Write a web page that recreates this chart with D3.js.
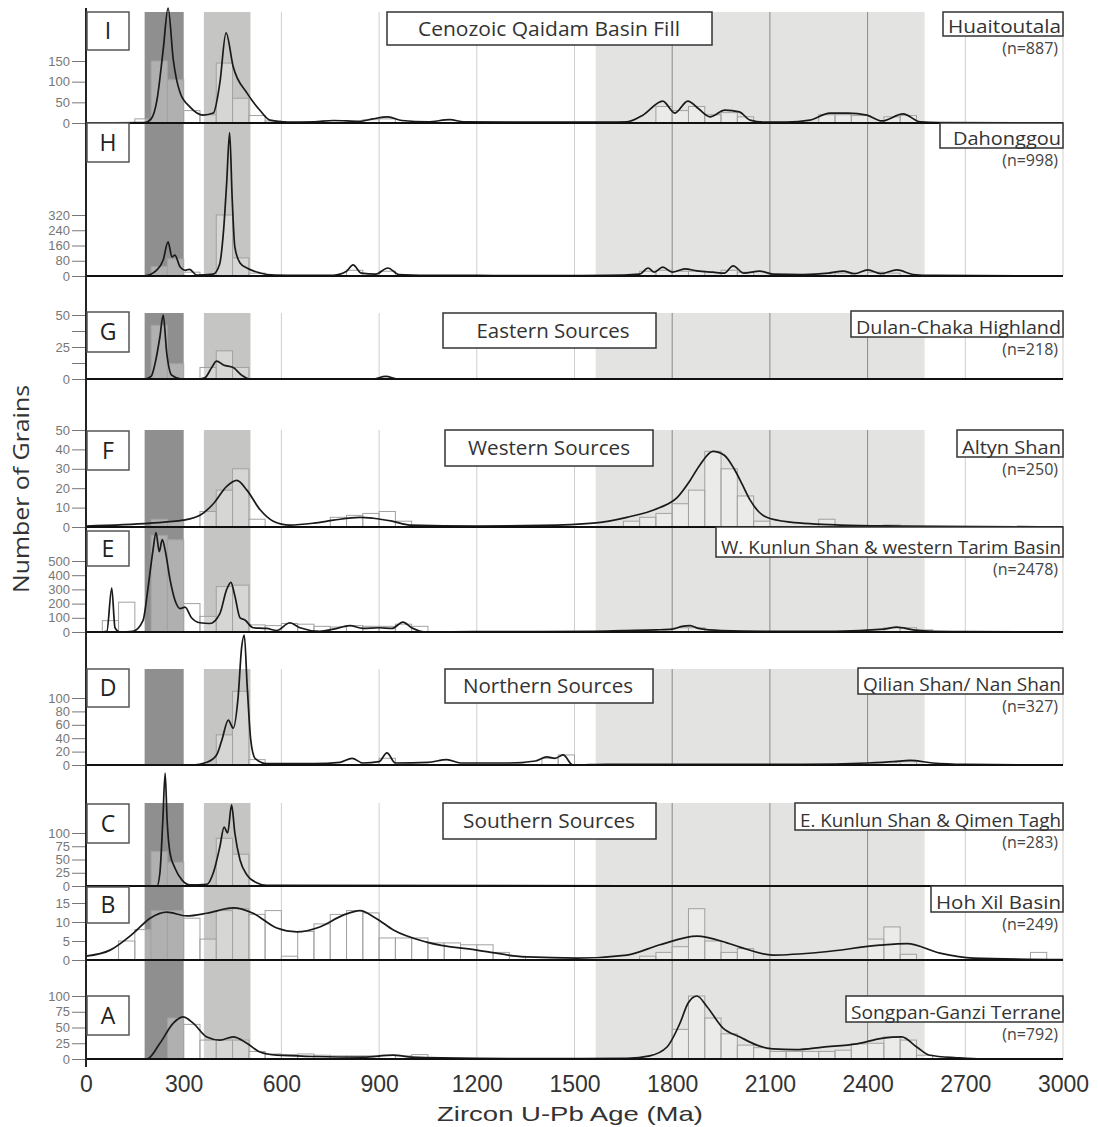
<!DOCTYPE html>
<html>
<head>
<meta charset="utf-8">
<script src="https://cdn.jsdelivr.net/npm/d3@7"></script>
<style>
  body { margin: 0; background: #fff; }
</style>
</head>
<body>
<div id="chart"></div>
<script>
// ---- data (age in Ma, value in grains) ----
const xTicks = [0, 300, 600, 900, 1200, 1500, 1800, 2100, 2400, 2700, 3000];
const gridAges = [600, 900, 1200, 1500, 1800, 2100, 2400, 2700, 3000];
const bandAges = [[180, 300], [362, 505], [1565, 2575]];
const binWidth = 50;

const panelIds = ['I', 'H', 'G', 'F', 'E', 'D', 'C', 'B', 'A'];
const siteNames = ['Huaitoutala', 'Dahonggou', 'Dulan-Chaka Highland', 'Altyn Shan',
  'W. Kunlun Shan & western Tarim Basin', 'Qilian Shan/ Nan Shan',
  'E. Kunlun Shan & Qimen Tagh', 'Hoh Xil Basin', 'Songpan-Ganzi Terrane'];
const siteCounts = [887, 998, 218, 250, 2478, 327, 283, 249, 792];
const groupTitles = ['Cenozoic Qaidam Basin Fill', 'Eastern Sources', 'Western Sources',
  'Northern Sources', 'Southern Sources'];

const ticksI = [0, 50, 100, 150];
const ticksH = [0, 80, 160, 240, 320];
const ticksG = [0, 25, 50];
const minorG = [12.5, 37.5];
const ticksF = [0, 10, 20, 30, 40, 50];
const ticksE = [0, 100, 200, 300, 400, 500];
const ticksD = [0, 20, 40, 60, 80, 100];
const ticksC = [0, 25, 50, 75, 100];
const ticksB = [0, 5, 10, 15];
const ticksA = [0, 25, 50, 75, 100];

const curveI = [[0,0],[180,1],[200,10],[218,56],[237,177],[252,278],[268,153],[289,73],[319,39],[360,19],[391,24],[411,97],[430,218],[452,136],[494,73],[534,31],[565,7],[620,2],[700,3],[760,6],[840,4],[880,10],[927,15],[970,6],[1050,3],[1117,8],[1160,3],[1300,2],[1450,2],[1600,2],[1661,3],[1710,19],[1771,53],[1808,24],[1848,53],[1880,35],[1916,15],[1962,31],[2006,27],[2039,7],[2080,2],[2150,2],[2223,7],[2284,24],[2340,24],[2398,19],[2444,5],[2509,22],[2561,3],[2620,1],[3000,0]];
const binsI = [[150,10],[200,150],[250,105],[300,30],[350,20],[400,145],[450,60],[500,18],[550,5],[850,8],[900,10],[1750,40],[1800,30],[1850,40],[1900,20],[1950,25],[2000,15],[2250,20],[2300,20],[2350,18],[2450,15],[2500,18]];

const curveH = [[0,0],[180,1],[218,32],[237,84],[252,179],[264,100],[273,110],[289,47],[305,30],[318,35],[340,5],[391,10],[410,60],[422,230],[432,490],[441,752],[449,400],[457,153],[473,68],[494,42],[534,16],[580,5],[650,3],[760,4],[800,25],[820,58],[845,15],[890,10],[927,42],[960,8],[1050,4],[1200,3],[1400,2],[1600,3],[1700,10],[1726,42],[1745,20],[1771,47],[1800,20],[1839,37],[1876,27],[1925,20],[1960,15],[1987,53],[2020,15],[2069,26],[2110,10],[2200,8],[2280,15],[2325,26],[2360,12],[2401,32],[2440,12],[2490,32],[2540,8],[2600,3],[3000,0]];
const binsH = [[200,50],[250,90],[300,20],[400,320],[450,95],[500,15],[800,30],[900,25],[1700,25],[1750,30],[1800,25],[1850,25],[1950,30],[2000,20],[2300,15],[2400,20],[2450,15]];

const curveG = [[0,0],[180,0],[200,2],[212,12],[227,33],[237,50],[248,20],[263,3],[294,0],[340,0],[365,1],[386,9],[401,14],[422,11],[452,9],[478,3],[503,0],[880,0],[920,2],[960,0],[3000,0]];
const binsG = [[200,42],[250,12],[350,9],[400,22],[450,9]];

const curveF = [[0,0.5],[197,2],[298,3.5],[350,6],[391,12],[432,21],[463,24],[494,19],[534,9],[575,3],[626,1],[700,2],[760,3.5],[841,5],[882,4.5],[940,3],[995,1],[1200,0.5],[1400,0.8],[1557,2],[1661,5],[1762,10],[1814,15],[1855,24],[1885,32],[1925,39],[1960,37],[1990,30],[2015,22],[2039,14],[2065,8],[2090,5],[2162,2.5],[2315,1],[2500,0.5],[3000,0]];
const binsF = [[200,4],[250,3],[350,8],[400,19],[450,30],[500,4],[750,5],[800,6],[850,7],[900,8],[950,3],[1650,3],[1700,5],[1750,7],[1800,12],[1850,19],[1900,39],[1950,30],[2000,16],[2050,3],[2250,4],[2450,1]];

const curveE = [[0,0],[43,0],[64,5],[79,310],[89,30],[104,0],[144,5],[175,80],[191,320],[205,565],[215,700],[225,565],[234,650],[244,565],[258,370],[273,225],[289,165],[304,175],[324,100],[350,65],[380,60],[411,130],[432,300],[445,350],[457,255],[473,100],[488,85],[513,30],[555,25],[586,10],[626,65],[657,30],[718,5],[760,20],[810,45],[850,25],[900,30],[940,25],[973,70],[1000,30],[1046,0],[1200,3],[1400,3],[1560,5],[1650,10],[1750,15],[1800,20],[1830,40],[1855,45],[1880,25],[1950,10],[2100,5],[2300,5],[2450,20],[2490,35],[2540,15],[2600,5],[2700,3],[3000,0]];
const binsE = [[50,80],[100,210],[200,680],[250,650],[300,200],[350,110],[400,320],[450,330],[500,50],[550,45],[600,60],[650,55],[700,40],[750,35],[800,45],[850,40],[900,40],[950,55],[1000,40],[1800,30],[1850,30],[2450,30],[2500,30],[2550,15]];

const curveD = [[0,0],[329,0],[371,4],[401,15],[417,37],[437,67],[452,55],[467,101],[478,176],[486,194],[495,117],[506,37],[519,10],[555,2],[700,2],[780,4],[817,10],[850,3],[900,5],[924,18],[950,3],[1050,4],[1108,8],[1150,3],[1300,3],[1380,6],[1415,12],[1440,10],[1465,15],[1495,0],[1600,1],[1800,1],[2200,1],[2400,3],[2480,5],[2530,7],[2600,3],[2700,1],[3000,0]];
const binsD = [[400,45],[450,110],[500,8],[900,10],[1400,10],[1450,15],[2500,5]];

const curveC = [[0,0],[218,0],[227,25],[236,125],[243,213],[249,125],[258,62],[273,34],[295,11],[319,2],[371,3],[391,25],[411,74],[424,111],[435,100],[447,153],[457,100],[473,49],[494,21],[524,6],[555,1],[3000,0]];
const binsC = [[200,65],[250,45],[400,90],[450,60]];

const curveB = [[0,1],[74,2.6],[145,7],[197,11],[248,12.6],[309,11.6],[371,12.3],[452,13.7],[513,12.3],[586,8.4],[647,7.4],[718,8.7],[790,11.8],[841,13],[890,11],[944,7.9],[1046,4.7],[1200,2.6],[1354,0.8],[1508,0.5],[1661,1.3],[1762,4],[1876,6.3],[1968,4.5],[2008,3.4],[2109,1.3],[2263,2.1],[2438,3.9],[2521,4.3],[2622,1.8],[2724,0.5],[3000,0.1]];
const binsB = [[100,5],[150,8],[200,13],[250,13],[300,11],[350,5.5],[400,13],[450,13.5],[500,12],[550,13],[600,1],[650,7.5],[700,9.5],[750,12],[800,13],[850,12.4],[900,5.8],[950,5.8],[1000,5.8],[1050,4.5],[1100,4.5],[1150,4],[1200,4],[1250,2],[1300,1],[1700,1],[1750,2],[1800,3.5],[1850,13.5],[1900,5],[1950,2],[2000,3],[2400,5.5],[2450,8.7],[2500,1.5],[2900,2]];

const curveA = [[0,0],[187,0],[227,25],[268,57],[298,67],[329,57],[371,35],[411,30],[452,35],[494,25],[534,11],[586,6],[700,4],[850,3],[944,6],[1000,3],[1200,1],[1527,0.5],[1661,1],[1731,5],[1784,19],[1824,57],[1849,89],[1876,100],[1907,83],[1956,49],[2008,35],[2060,22],[2109,16],[2180,15],[2263,19],[2367,24],[2447,33],[2505,35],[2551,19],[2591,6],[2674,2],[2750,0],[3000,0]];
const binsA = [[250,65],[300,55],[350,30],[400,30],[450,30],[500,12],[550,8],[600,7],[650,8],[700,6],[750,5],[800,5],[850,5],[900,6],[950,5],[1000,7],[1800,47],[1850,100],[1900,65],[1950,40],[2000,22],[2050,18],[2100,12],[2150,12],[2200,12],[2250,12],[2300,14],[2350,24],[2400,25],[2450,35],[2500,30],[2550,6]];

// ---- layout ----
const W = 1098, H = 1127;
const X0 = 86, X1 = 1063;
const bandColors = ['#8f8f8f', '#c5c6c3', '#e3e3e1'];
const labelFont = "'Open Sans', 'Noto Sans', sans-serif";
const axisFont = "'Liberation Sans', Arial, sans-serif";

// per panel: pixel baseline, pixel of top tick, letter box, site box
const panels = [
  { curve: curveI, bins: binsI, ticks: ticksI, y0: 123, yt: 61, box: [12, 50], site: [943, 12, 36] },
  { curve: curveH, bins: binsH, ticks: ticksH, y0: 276, yt: 215, box: [123, 162], site: [940, 123, 148], tl: 108 },
  { curve: curveG, bins: binsG, ticks: ticksG, minor: minorG, y0: 379, yt: 315, box: [312, 352], site: [851, 311, 337] },
  { curve: curveF, bins: binsF, ticks: ticksF, y0: 527, yt: 430, box: [431, 470], site: [957, 430, 457] },
  { curve: curveE, bins: binsE, ticks: ticksE, y0: 632, yt: 561, box: [531, 566], site: [716, 527, 557] },
  { curve: curveD, bins: binsD, ticks: ticksD, y0: 765, yt: 698, box: [669, 707], site: [858, 668, 694] },
  { curve: curveC, bins: binsC, ticks: ticksC, y0: 886, yt: 833, box: [804, 843], site: [795, 803, 830] },
  { curve: curveB, bins: binsB, ticks: ticksB, y0: 960, yt: 903, box: [887, 923], site: [931, 886, 912] },
  { curve: curveA, bins: binsA, ticks: ticksA, y0: 1059, yt: 996, box: [996, 1035], site: [846, 996, 1022] }
];
panels.forEach((p, i) => {
  p.id = panelIds[i];
  p.name = siteNames[i];
  p.n = siteCounts[i];
  const top = p.ticks[p.ticks.length - 1];
  p.y = d3.scaleLinear().domain([0, top]).range([p.y0, p.yt]);
});

// groups of panels sharing the shaded bands, with their title box
const groups = [
  { top: 12, from: 0, to: 1, title: [387, 712, 12, 45], tx: 549, tl: 262 },
  { top: 313, from: 2, to: 2, title: [443, 656, 313, 348], tx: 553, tl: 153 },
  { top: 430, from: 3, to: 4, title: [445, 653, 430, 466], tx: 549, tl: 162 },
  { top: 669, from: 5, to: 5, title: [445, 653, 669, 703], tx: 548, tl: 170 },
  { top: 803, from: 6, to: 8, title: [443, 656, 803, 839], tx: 549, tl: 172 }
];

const x = d3.scaleLinear().domain([0, 3000]).range([X0, X1]);

const svg = d3.select('#chart').append('svg')
  .attr('width', W)
  .attr('height', H);

// shaded age bands and grid lines
groups.forEach((g) => {
  const bottom = panels[g.to].y0;
  const gg = svg.append('g');
  gg.selectAll('rect').data(bandAges).enter().append('rect')
    .attr('x', d => x(d[0]))
    .attr('y', g.top)
    .attr('width', d => x(d[1]) - x(d[0]))
    .attr('height', bottom - g.top)
    .attr('fill', (d, k) => bandColors[k]);
  gg.selectAll('line').data(gridAges).enter().append('line')
    .attr('x1', d => x(d)).attr('x2', d => x(d))
    .attr('y1', g.top).attr('y2', bottom)
    .attr('stroke', d => (d > bandAges[2][0] && d < bandAges[2][1]) ? '#8a8a8a' : '#cfcfcf')
    .attr('stroke-width', 1);
});

// histograms
panels.forEach((p) => {
  svg.append('g').selectAll('rect').data(p.bins).enter().append('rect')
    .attr('x', d => x(d[0]))
    .attr('y', d => p.y(d[1]))
    .attr('width', d => x(d[0] + binWidth) - x(d[0]))
    .attr('height', d => p.y(0) - p.y(d[1]))
    .attr('fill', 'rgba(255,255,255,0.3)')
    .attr('stroke', '#a2a2a2')
    .attr('stroke-width', 1);
});

// probability curves
panels.forEach((p) => {
  const line = d3.line()
    .x(d => x(d[0]))
    .y(d => p.y(d[1]))
    .curve(d3.curveMonotoneX);
  svg.append('path')
    .datum(p.curve)
    .attr('d', line)
    .attr('fill', 'none')
    .attr('stroke', '#1a1a1a')
    .attr('stroke-width', 1.7)
    .attr('stroke-linejoin', 'round');
});

// baselines and y axes
panels.forEach((p) => {
  svg.append('line')
    .attr('x1', X0).attr('x2', X1)
    .attr('y1', p.y(0)).attr('y2', p.y(0))
    .attr('stroke', '#111')
    .attr('stroke-width', 2);
  const ax = svg.append('g')
    .attr('transform', `translate(${X0},0)`)
    .call(d3.axisLeft(p.y).tickValues(p.ticks).tickSize(14).tickPadding(2));
  ax.select('.domain').remove();
  ax.selectAll('line').attr('stroke', '#777');
  ax.selectAll('text')
    .attr('fill', '#777')
    .style('font-family', axisFont)
    .style('font-size', '13px');
  if (p.minor) {
    const mx = svg.append('g')
      .attr('transform', `translate(${X0},0)`)
      .call(d3.axisLeft(p.y).tickValues(p.minor).tickSize(14).tickFormat(''));
    mx.select('.domain').remove();
    mx.selectAll('line').attr('stroke', '#777');
  }
});

// left axis line
svg.append('line')
  .attr('x1', X0).attr('x2', X0)
  .attr('y1', 8).attr('y2', 1067)
  .attr('stroke', '#222')
  .attr('stroke-width', 2);

// bottom axis labels
const xa = svg.append('g')
  .attr('transform', `translate(0,${panels[8].y0})`)
  .call(d3.axisBottom(x).tickValues(xTicks).tickSize(0).tickPadding(17).tickFormat(d3.format('d')));
xa.select('.domain').remove();
xa.selectAll('text')
  .attr('fill', '#333')
  .style('font-family', axisFont)
  .style('font-size', '23px');

// panel letter boxes
panels.forEach((p) => {
  svg.append('rect')
    .attr('x', 87).attr('y', p.box[0])
    .attr('width', 42).attr('height', p.box[1] - p.box[0])
    .attr('fill', '#fff')
    .attr('stroke', '#555')
    .attr('stroke-width', 1.5);
  svg.append('text')
    .attr('x', 108)
    .attr('y', (p.box[0] + p.box[1]) / 2 + 8)
    .attr('text-anchor', 'middle')
    .style('font-family', labelFont)
    .style('font-size', '23px')
    .attr('fill', '#222')
    .text(p.id);
});

// site name boxes and counts
panels.forEach((p) => {
  const [left, top, bottom] = p.site;
  svg.append('rect')
    .attr('x', left).attr('y', top)
    .attr('width', X1 - left).attr('height', bottom - top)
    .attr('fill', '#fff')
    .attr('stroke', '#333')
    .attr('stroke-width', 1.5);
  svg.append('text')
    .attr('x', X1 - 2)
    .attr('y', bottom - 3)
    .attr('text-anchor', 'end')
    .attr('textLength', p.tl || (X1 - left - 7))
    .attr('lengthAdjust', 'spacingAndGlyphs')
    .style('font-family', labelFont)
    .style('font-size', '18px')
    .attr('fill', '#333')
    .text(p.name);
  svg.append('text')
    .attr('x', X1 - 5)
    .attr('y', bottom + 18)
    .attr('text-anchor', 'end')
    .style('font-family', labelFont)
    .style('font-size', '16px')
    .attr('fill', '#444')
    .text(`(n=${p.n})`);
});

// group titles
groups.forEach((g, i) => {
  const [l, r, t, b] = g.title;
  svg.append('rect')
    .attr('x', l).attr('y', t)
    .attr('width', r - l).attr('height', b - t)
    .attr('fill', '#fff')
    .attr('stroke', '#333')
    .attr('stroke-width', 1.5);
  svg.append('text')
    .attr('x', g.tx)
    .attr('y', (t + b) / 2 + 7)
    .attr('text-anchor', 'middle')
    .attr('textLength', g.tl)
    .attr('lengthAdjust', 'spacingAndGlyphs')
    .style('font-family', labelFont)
    .style('font-size', '20px')
    .attr('fill', '#333')
    .text(groupTitles[i]);
});

// axis titles
svg.append('text')
  .attr('transform', 'translate(29,489) rotate(-90)')
  .attr('text-anchor', 'middle')
  .attr('textLength', 208)
  .attr('lengthAdjust', 'spacingAndGlyphs')
  .style('font-family', labelFont)
  .style('font-size', '22px')
  .attr('fill', '#333')
  .text('Number of Grains');

svg.append('text')
  .attr('x', 570)
  .attr('y', 1121)
  .attr('text-anchor', 'middle')
  .attr('textLength', 266)
  .attr('lengthAdjust', 'spacingAndGlyphs')
  .style('font-family', axisFont)
  .style('font-size', '21px')
  .attr('fill', '#333')
  .text('Zircon U-Pb Age (Ma)');
</script>
</body>
</html>
